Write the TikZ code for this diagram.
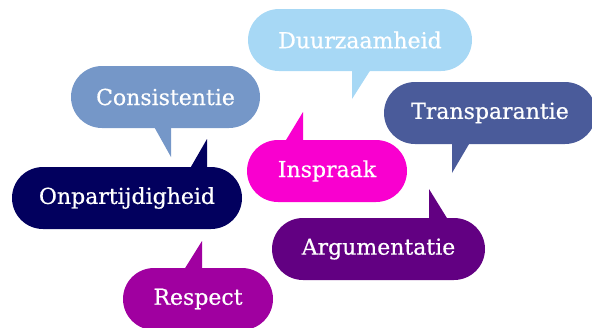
\documentclass[tikz,border=0pt]{standalone}
\usepackage{fontspec}
\newfontfamily\bubblefont{DejaVu Serif}[FakeBold=0.6]
\definecolor{cDuur}{HTML}{A7D8F5}
\definecolor{cCons}{HTML}{7597C8}
\definecolor{cOnp}{HTML}{02005E}
\definecolor{cInsp}{HTML}{F900CF}
\definecolor{cTrans}{HTML}{4A5B9A}
\definecolor{cArg}{HTML}{620082}
\definecolor{cResp}{HTML}{A000A0}
\tikzset{
  bubble/.style={fill=#1, draw=none, rounded corners=31pt, minimum height=62pt,
    inner sep=0pt, text=white, font=\bubblefont\fontsize{22}{26}\selectfont},
  tail/.style={fill=#1, draw=none}
}
\begin{document}
\begin{tikzpicture}[x=1pt,y=-1pt]
\useasboundingbox (0,0) rectangle (592,327);
\clip (0,0) rectangle (592,327);
% Duurzaamheid
\fill[cDuur] (352,66) -- (352,99) -- (373,66) -- cycle;
\node[bubble=cDuur, minimum width=224pt] (duur) at (360,40) {Duurzaamheid};
% Consistentie
\fill[cCons] (152,123) -- (171,157) -- (171,123) -- cycle;
\node[bubble=cCons, minimum width=189pt] (cons) at (165.5,97) {Consistentie};
% Onpartijdigheid
\fill[cOnp] (188,172) -- (207,139) -- (207,172) -- cycle;
\node[bubble=cOnp, minimum width=230pt] (onp) at (127,198) {Onpartijdigheid};
% Inspraak
\fill[cInsp] (283,145) -- (303,112) -- (303,145) -- cycle;
\node[bubble=cInsp, minimum width=160pt] (insp) at (327,171) {Inspraak};
% Transparantie
\fill[cTrans] (452,139) -- (452,173) -- (472,139) -- cycle;
\node[bubble=cTrans, minimum width=212pt] (trans) at (490,113) {Transparantie};
% Argumentatie
\fill[cArg] (429,223) -- (429,189) -- (450,223) -- cycle;
\node[bubble=cArg, minimum width=213pt] (arg) at (378.5,249) {Argumentatie};
% Respect
\fill[cResp] (182,273) -- (202,241) -- (202,273) -- cycle;
\node[bubble=cResp, minimum width=150pt] (resp) at (198,299) {Respect};
\end{tikzpicture}
\end{document}
